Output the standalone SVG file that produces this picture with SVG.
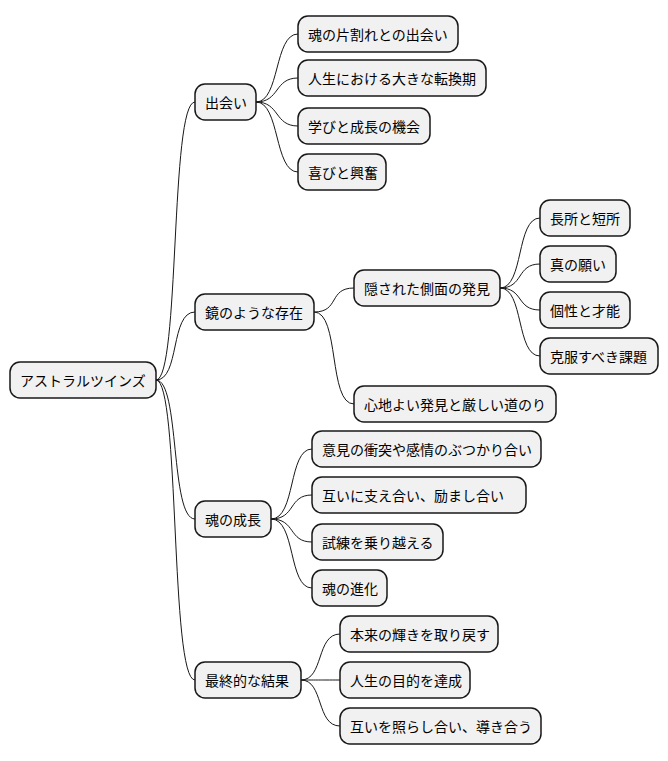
<svg xmlns="http://www.w3.org/2000/svg" width="668" height="761" viewBox="0 0 668 761">
<style>
rect{fill:#f1f1f1;stroke:#181818;stroke-width:1.5}
text{font-family:"Noto Sans CJK JP","Noto Sans",sans-serif;font-size:14px;fill:#000;dominant-baseline:central}
#connectors path{fill:none;stroke:#181818;stroke-width:1}
</style>
<rect x="0" y="0" width="668" height="761" style="fill:#fff;stroke:none"/>
<g id="connectors">
<path d="M156,380 C180,380 170,102 195,102"/>
<path d="M156,380 C180,380 170,312 195,312"/>
<path d="M156,380 C180,380 170,519 195,519"/>
<path d="M156,380 C180,380 170,680 195,680"/>
<path d="M256,102 C280,102 274,34 298,34"/>
<path d="M256,102 C280,102 274,78 298,78"/>
<path d="M256,102 C280,102 274,126 298,126"/>
<path d="M256,102 C280,102 274,172 298,172"/>
<path d="M314,312 C340,312 328,288 354,288"/>
<path d="M314,312 C340,312 328,404 354,404"/>
<path d="M500,288 C524,288 516,218 540,218"/>
<path d="M500,288 C524,288 516,264 540,264"/>
<path d="M500,288 C524,288 516,310 540,310"/>
<path d="M500,288 C524,288 516,356 540,356"/>
<path d="M271,519 C296,519 288,449 312,449"/>
<path d="M271,519 C296,519 288,495 312,495"/>
<path d="M271,519 C296,519 288,542 312,542"/>
<path d="M271,519 C296,519 288,588 312,588"/>
<path d="M301,680 C324,680 316,634 340,634"/>
<path d="M301,680 C324,680 316,680 340,680"/>
<path d="M301,680 C324,680 316,726 340,726"/>
</g>
<g id="root"><rect x="10" y="362" width="146" height="36" rx="10"/><text x="20" y="380">アストラルツインズ</text></g>
<g id="n1"><rect x="195" y="84" width="61" height="36" rx="10"/><text x="205" y="102">出会い</text></g>
<g id="n2"><rect x="195" y="294" width="119" height="36" rx="10"/><text x="205" y="312">鏡のような存在</text></g>
<g id="n3"><rect x="195" y="501" width="76" height="36" rx="10"/><text x="205" y="519">魂の成長</text></g>
<g id="n4"><rect x="195" y="662" width="106" height="36" rx="10"/><text x="205" y="680">最終的な結果</text></g>
<g id="n11"><rect x="298" y="16" width="160" height="36" rx="10"/><text x="308" y="34">魂の片割れとの出会い</text></g>
<g id="n12"><rect x="298" y="60" width="188" height="36" rx="10"/><text x="308" y="78">人生における大きな転換期</text></g>
<g id="n13"><rect x="298" y="108" width="132" height="36" rx="10"/><text x="308" y="126">学びと成長の機会</text></g>
<g id="n14"><rect x="298" y="154" width="88" height="36" rx="10"/><text x="308" y="172">喜びと興奮</text></g>
<g id="n21"><rect x="354" y="270" width="146" height="36" rx="10"/><text x="364" y="288">隠された側面の発見</text></g>
<g id="n22"><rect x="354" y="386" width="202" height="36" rx="10"/><text x="364" y="404">心地よい発見と厳しい道のり</text></g>
<g id="n211"><rect x="540" y="200" width="90" height="36" rx="10"/><text x="550" y="218">長所と短所</text></g>
<g id="n212"><rect x="540" y="246" width="76" height="36" rx="10"/><text x="550" y="264">真の願い</text></g>
<g id="n213"><rect x="540" y="292" width="90" height="36" rx="10"/><text x="550" y="310">個性と才能</text></g>
<g id="n214"><rect x="540" y="338" width="118" height="36" rx="10"/><text x="550" y="356">克服すべき課題</text></g>
<g id="n31"><rect x="312" y="431" width="229" height="36" rx="10"/><text x="322" y="449">意見の衝突や感情のぶつかり合い</text></g>
<g id="n32"><rect x="312" y="477" width="214" height="36" rx="10"/><text x="322" y="495">互いに支え合い、励まし合い</text></g>
<g id="n33"><rect x="312" y="524" width="131" height="36" rx="10"/><text x="322" y="542">試練を乗り越える</text></g>
<g id="n34"><rect x="312" y="570" width="75" height="36" rx="10"/><text x="322" y="588">魂の進化</text></g>
<g id="n41"><rect x="340" y="616" width="158" height="36" rx="10"/><text x="350" y="634">本来の輝きを取り戻す</text></g>
<g id="n42"><rect x="340" y="662" width="130" height="36" rx="10"/><text x="350" y="680">人生の目的を達成</text></g>
<g id="n43"><rect x="340" y="708" width="201" height="36" rx="10"/><text x="350" y="726">互いを照らし合い、導き合う</text></g>
</svg>
